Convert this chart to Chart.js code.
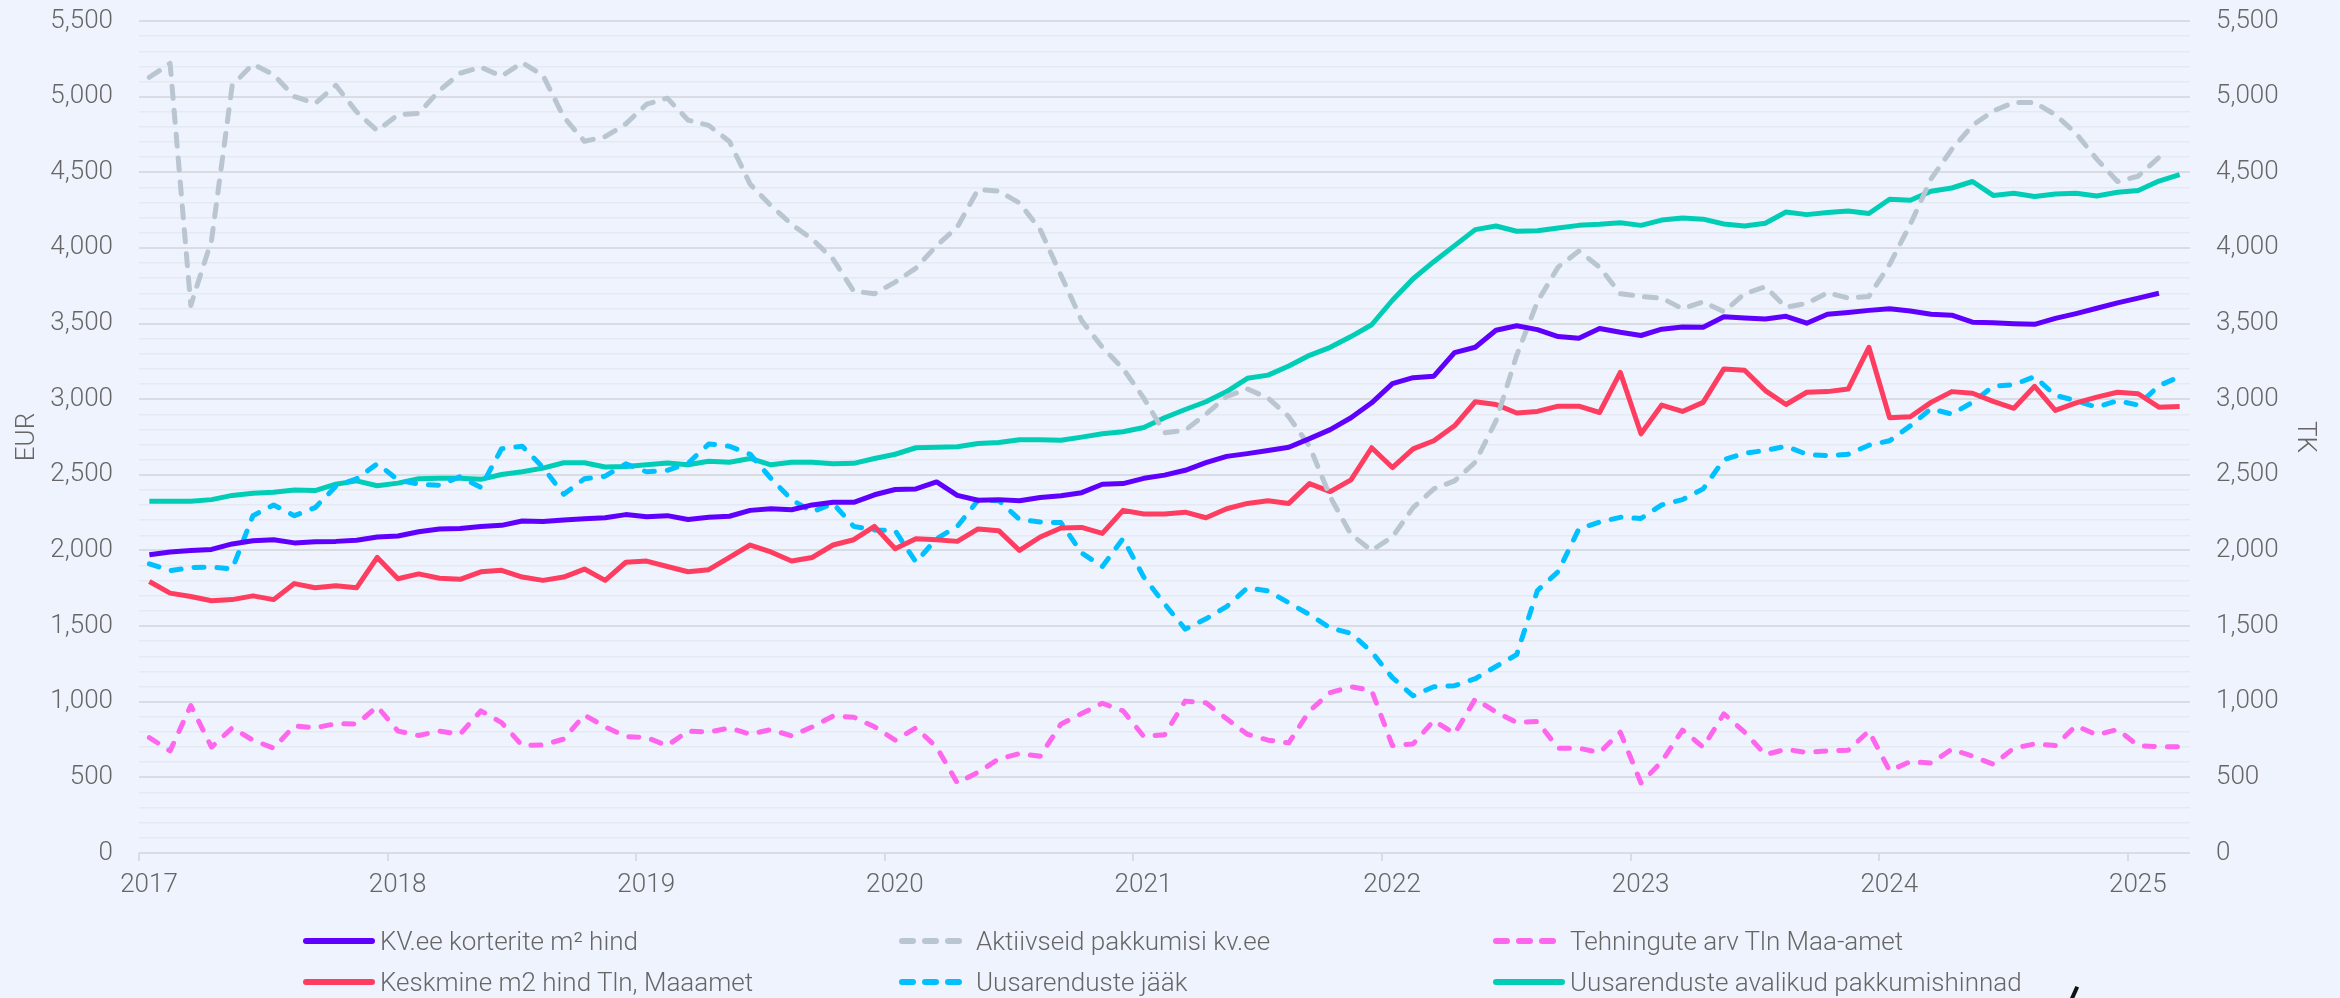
<!DOCTYPE html>
<html>
<head>
<meta charset="utf-8">
<script src="https://cdn.jsdelivr.net/npm/chart.js@4.4.1/dist/chart.umd.min.js"></script>
<style>
html, body { margin: 0; padding: 0; background: #eef3fd; }
#wrap { position: relative; width: 2340px; height: 998px; overflow: hidden; }
#legend { position: absolute; left: 0; top: 0; width: 100%; height: 100%; font-family: Roboto, sans-serif; font-weight: 300; font-size: 26px; color: #666; }
.item { position: absolute; height: 36px; display: flex; align-items: center; white-space: nowrap; }
.item svg { width: 74px; height: 10px; margin-right: 3px; flex: none; }
#mark { position: absolute; left: 2072px; top: 986px; width: 4px; height: 16px; background: #111; transform: rotate(24deg); }
</style>
</head>
<body>
<div id="wrap">
  <canvas id="myChart" width="2340" height="998"></canvas>
  <div id="legend"></div>
  <div id="mark"></div>
</div>
<script>
// monthly values, Jan 2017 .. Mar 2025
var yearLabels = ['2017', '2018', '2019', '2020', '2021', '2022', '2023', '2024', '2025'];

var kvHind = [
  1972, 1990, 2000, 2007, 2043, 2064, 2071, 2050, 2057, 2060, 2067, 2089,
  2096, 2124, 2142, 2145, 2159, 2166, 2195, 2191, 2202, 2209, 2216, 2237,
  2223, 2230, 2205, 2219, 2226, 2265, 2276, 2269, 2301, 2318, 2318, 2368,
  2403, 2407, 2453, 2364, 2332, 2336, 2329, 2350, 2361, 2382, 2438, 2442,
  2477, 2498, 2530, 2580, 2622, 2640, 2661, 2682, 2739, 2799, 2877, 2976,
  3103, 3142, 3152, 3308, 3343, 3456, 3485, 3460, 3414, 3403, 3467, 3442,
  3421, 3463, 3477, 3476, 3545, 3537, 3530, 3548, 3502, 3562, 3573, 3587,
  3598, 3583, 3562, 3555, 3509, 3506, 3499, 3495, 3534, 3566, 3601, 3637,
  3668, 3700
];

var aktiivseid = [
  5128, 5220, 3620, 4050, 5075, 5215, 5145, 5000, 4955, 5075, 4900, 4775,
  4880, 4890, 5040, 5155, 5195, 5135, 5225, 5140, 4865, 4705, 4735, 4820,
  4950, 4990, 4845, 4810, 4704, 4421, 4280, 4156, 4057, 3926, 3714, 3697,
  3774, 3866, 4015, 4138, 4386, 4375, 4297, 4121, 3820, 3520, 3343, 3202,
  3007, 2778, 2795, 2901, 3018, 3068, 3007, 2884, 2689, 2354, 2106, 2000,
  2089, 2283, 2407, 2460, 2583, 2856, 3290, 3644, 3873, 3979, 3873, 3697,
  3679, 3668, 3598, 3644, 3578, 3697, 3743, 3608, 3633, 3704, 3668, 3679,
  3891, 4156, 4456, 4651, 4810, 4905, 4962, 4962, 4880, 4757, 4587, 4439,
  4474, 4598
];

var tehingud = [
  763, 675, 975, 700, 827, 746, 693, 841, 827, 855, 852, 968,
  806, 777, 806, 785, 940, 862, 710, 714, 753, 912, 834, 770,
  763, 710, 806, 799, 827, 785, 816, 774, 834, 905, 898, 834,
  746, 827, 700, 463, 534, 622, 657, 640, 852, 922, 990, 940,
  770, 781, 1004, 993, 887, 785, 746, 728, 940, 1060, 1099, 1074,
  710, 721, 876, 788, 1018, 933, 862, 869, 693, 693, 664, 799,
  463, 604, 813, 700, 920, 799, 650, 686, 664, 675, 679, 806,
  544, 604, 594, 686, 640, 587, 693, 721, 710, 841, 781, 816,
  710, 703, 703
];

var keskmine = [
  1795, 1718, 1696, 1668, 1675, 1700, 1675, 1781, 1753, 1767, 1753, 1954,
  1813, 1845, 1816, 1809, 1859, 1869, 1824, 1802, 1824, 1877, 1802, 1922,
  1930, 1894, 1859, 1873, 1954, 2036, 1990, 1930, 1954, 2036, 2071, 2159,
  2011, 2078, 2071, 2060, 2142, 2131, 2000, 2089, 2149, 2152, 2113, 2265,
  2241, 2241, 2253, 2216, 2276, 2311, 2329, 2311, 2442, 2389, 2467, 2679,
  2548, 2672, 2725, 2824, 2983, 2965, 2909, 2919, 2954, 2954, 2912, 3177,
  2771, 2961, 2919, 2979, 3200, 3191, 3057, 2965, 3046, 3050, 3067, 3343,
  2877, 2884, 2979, 3050, 3039, 2986, 2940, 3085, 2926, 2976, 3014, 3046,
  3036, 2947, 2951
];

var jaak = [
  1912, 1866, 1887, 1891, 1877, 2230, 2301, 2230, 2283, 2424, 2474, 2573,
  2467, 2438, 2431, 2488, 2417, 2672, 2689, 2548, 2371, 2474, 2491, 2573,
  2520, 2530, 2576, 2704, 2689, 2636, 2477, 2336, 2255, 2311, 2159, 2135,
  2131, 1923, 2078, 2159, 2332, 2329, 2205, 2188, 2184, 1983, 1894, 2078,
  1824, 1647, 1480, 1548, 1629, 1753, 1732, 1654, 1576, 1488, 1452, 1329,
  1159, 1039, 1099, 1106, 1152, 1233, 1311, 1735, 1859, 2142, 2188, 2219,
  2212, 2301, 2336, 2407, 2600, 2643, 2661, 2689, 2636, 2626, 2636, 2696,
  2725, 2824, 2937, 2901, 2979, 3085, 3096, 3149, 3025, 2990, 2947, 2990,
  2961, 3089, 3149
];

var pakkumishinnad = [
  2325, 2325, 2325, 2336, 2364, 2378, 2385, 2400, 2396, 2438, 2460, 2428,
  2445, 2474, 2477, 2477, 2470, 2502, 2520, 2544, 2580, 2580, 2552, 2555,
  2566, 2578, 2566, 2590, 2583, 2608, 2566, 2583, 2583, 2573, 2576, 2608,
  2636, 2679, 2682, 2686, 2707, 2714, 2732, 2732, 2728, 2749, 2771, 2785,
  2813, 2877, 2932, 2983, 3050, 3138, 3159, 3219, 3290, 3343, 3414, 3492,
  3654, 3796, 3909, 4015, 4121, 4145, 4110, 4114, 4131, 4149, 4156, 4167,
  4149, 4184, 4198, 4190, 4158, 4145, 4163, 4237, 4220, 4234, 4244, 4227,
  4322, 4315, 4375, 4396, 4439, 4347, 4361, 4340, 4357, 4361, 4343, 4368,
  4379, 4442, 4485
];

// month i is placed at the middle of its month
function toPoints(values) {
  return values.map(function(v, i) { return {x: i + 0.5, y: v}; });
}

var textColor = '#666';
var tickFont = {family: 'Roboto', size: 26, weight: '300'};

var series = [
  {label: 'KV.ee korterite m² hind', data: kvHind, color: '#5f00ff', dash: [], axis: 'y'},
  {label: 'Aktiivseid pakkumisi kv.ee', data: aktiivseid, color: '#b9c5d0', dash: [12, 12], axis: 'y1'},
  {label: 'Tehningute arv Tln Maa-amet', data: tehingud, color: '#ff66ee', dash: [10, 13], axis: 'y1'},
  {label: 'Keskmine m2 hind Tln, Maaamet', data: keskmine, color: '#ff3d60', dash: [], axis: 'y'},
  {label: 'Uusarenduste jääk', data: jaak, color: '#00c0ff', dash: [10, 13], axis: 'y1'},
  {label: 'Uusarenduste avalikud pakkumishinnad', data: pakkumishinnad, color: '#00cdb5', dash: [], axis: 'y'}
];

// fixed side widths; keep the label padding from pushing the plot top down
function sideFit(width) {
  return function(scale) {
    scale.width = width;
    scale.paddingTop = 21;
    scale.paddingBottom = 0;
  };
}

var ctx = document.getElementById('myChart');
var myChart = new Chart(ctx, {
  type: 'line',
  data: {
    datasets: series.map(function(s) {
      return {
        label: s.label,
        data: toPoints(s.data),
        borderColor: s.color,
        backgroundColor: s.color,
        borderWidth: 5,
        borderDash: s.dash,
        borderCapStyle: s.dash.length ? 'round' : 'butt',
        borderJoinStyle: 'round',
        pointRadius: 0,
        tension: 0,
        yAxisID: s.axis
      };
    })
  },
  options: {
    responsive: false,
    animation: false,
    layout: {padding: 0},
    plugins: {
      legend: {display: false},
      tooltip: {enabled: false}
    },
    scales: {
      x: {
        type: 'linear',
        min: 0,
        max: 99,
        afterBuildTicks: function(scale) {
          scale.ticks = yearLabels.map(function(l, i) { return {value: i * 12}; });
        },
        afterFit: function(scale) { scale.height = 145; },
        ticks: {
          callback: function(v, i) { return yearLabels[i]; },
          font: tickFont,
          color: textColor,
          labelOffset: 10,
          padding: 9,
          maxRotation: 0,
          autoSkip: false
        },
        grid: {drawOnChartArea: false, drawTicks: true, tickLength: 8, color: '#d9dde3', lineWidth: 2},
        border: {display: false}
      },
      y: {
        position: 'left',
        min: 0,
        max: 5500,
        afterFit: sideFit(139),
        ticks: {
          stepSize: 100,
          autoSkip: false,
          font: tickFont,
          color: textColor,
          padding: 26,
          callback: function(v) { return v % 500 === 0 ? v.toLocaleString('en-US') : ''; }
        },
        grid: {
          drawTicks: false,
          color: function(c) { return c.tick && c.tick.value % 500 === 0 ? '#d9dde3' : '#e4e9f2'; },
          lineWidth: function(c) { return c.tick && c.tick.value % 500 === 0 ? 2 : 1.5; }
        },
        border: {display: false},
        title: {display: true, text: 'EUR', font: tickFont, color: textColor, padding: {top: 12, bottom: 0}}
      },
      y1: {
        position: 'right',
        min: 0,
        max: 5500,
        afterFit: sideFit(150),
        ticks: {
          stepSize: 500,
          font: tickFont,
          color: textColor,
          padding: 26,
          callback: function(v) { return v.toLocaleString('en-US'); }
        },
        grid: {drawOnChartArea: false, drawTicks: false},
        border: {display: false},
        title: {display: true, text: 'TK', font: tickFont, color: textColor, padding: {top: 20, bottom: 0}}
      }
    }
  }
});

// legend: three columns, two rows
var colLeft = [303, 899, 1493];
var rowMid = [941, 982];
var legend = document.getElementById('legend');
series.forEach(function(s, n) {
  var item = document.createElement('div');
  item.className = 'item';
  item.style.left = colLeft[n % 3] + 'px';
  item.style.top = (rowMid[Math.floor(n / 3)] - 18) + 'px';
  var line = s.dash.length
    ? '<line x1="3" y1="5" x2="61" y2="5" stroke="' + s.color + '" stroke-width="6" stroke-linecap="round" stroke-dasharray="11 12"/>'
    : '<line x1="3" y1="5" x2="69" y2="5" stroke="' + s.color + '" stroke-width="6" stroke-linecap="round"/>';
  item.innerHTML = '<svg viewBox="0 0 74 10">' + line + '</svg><span>' + s.label + '</span>';
  legend.appendChild(item);
});
</script>
</body>
</html>
